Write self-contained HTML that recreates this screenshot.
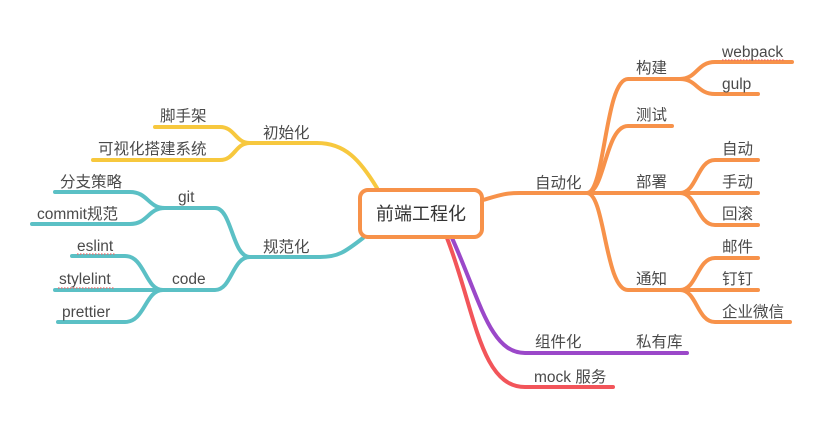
<!DOCTYPE html>
<html><head><meta charset="utf-8"><style>
html,body{margin:0;padding:0;background:#fff;}
svg text{font-family:"Liberation Sans","Noto Sans CJK SC",sans-serif;font-size:15.5px;fill:#4a4a4a;}
</style></head><body>
<svg width="827" height="417" viewBox="0 0 827 417" xmlns="http://www.w3.org/2000/svg">
<g fill="none" stroke-width="4" stroke-linecap="round">
<g stroke="#f7c83e">
<path d="M377,188 C360,160 345,143 317,143 L250,143"/>
<path d="M250,143 C235,143 235,127 220,127 L155,127"/>
<path d="M250,143 C235,143 235,160 220,160 L93,160"/>
</g>
<g stroke="#5bc0c5">
<path d="M363,238 C345,252 338,257 320,257 L250,257"/>
<path d="M250,257 C232,257 232,208 215,208 L165,208"/>
<path d="M165,208 C148,208 148,192 130,192 L55,192"/>
<path d="M165,208 C148,208 148,224 130,224 L32,224"/>
<path d="M250,257 C232,257 232,290 215,290 L163,290"/>
<path d="M163,290 C145,290 145,256 125,256 L72,256"/>
<path d="M163,290 L55,290"/>
<path d="M163,290 C145,290 145,322 125,322 L58,322"/>
</g>
<g stroke="#f7924a">
<path d="M483,200 C500,195 505,193 520,193 L587,193"/>
<path d="M587,193 C605,193 605,79 628,79 L680,79"/>
<path d="M680,79 C697,79 697,62 715,62 L792,62"/>
<path d="M680,79 C697,79 697,94 715,94 L758,94"/>
<path d="M587,193 C605,193 605,126 628,126 L672,126"/>
<path d="M587,193 L680,193"/>
<path d="M680,193 C697,193 697,160 715,160 L758,160"/>
<path d="M680,193 L758,193"/>
<path d="M680,193 C697,193 697,225 715,225 L758,225"/>
<path d="M587,193 C605,193 605,290 628,290 L680,290"/>
<path d="M680,290 C697,290 697,258 715,258 L758,258"/>
<path d="M680,290 L758,290"/>
<path d="M680,290 C697,290 697,322 715,322 L790,322"/>
</g>
<path stroke="#9b48c9" d="M452,238 C480,300 490,353 525,353 L687,353"/>
<path stroke="#f2555a" d="M447,238 C475,310 480,387 525,387 L613,387"/>
</g>
<g stroke="#e66" stroke-width="1.2" stroke-dasharray="1.5,1.5">
<line x1="722" y1="60" x2="785" y2="60"/>
<line x1="77" y1="254" x2="116" y2="254"/>
<line x1="58" y1="288" x2="114" y2="288"/>
</g>
<rect x="360" y="190" width="122" height="47" rx="8" fill="#fff" stroke="#f7924a" stroke-width="4"/>
<text x="421" y="220" text-anchor="middle" style="font-size:18px;fill:#333">前端工程化</text>
<text x="263" y="138">初始化</text>
<text x="160" y="121">脚手架</text>
<text x="98" y="154">可视化搭建系统</text>
<text x="263" y="252">规范化</text>
<text x="178" y="202">git</text>
<text x="60" y="187">分支策略</text>
<text x="37" y="219">commit规范</text>
<text x="172" y="284">code</text>
<text x="77" y="251">eslint</text>
<text x="59" y="284">stylelint</text>
<text x="62" y="317">prettier</text>
<text x="535" y="188">自动化</text>
<text x="636" y="73">构建</text>
<text x="722" y="57">webpack</text>
<text x="722" y="89">gulp</text>
<text x="636" y="120">测试</text>
<text x="636" y="187">部署</text>
<text x="722" y="154">自动</text>
<text x="722" y="187">手动</text>
<text x="722" y="219">回滚</text>
<text x="636" y="284">通知</text>
<text x="722" y="252">邮件</text>
<text x="722" y="284">钉钉</text>
<text x="722" y="317">企业微信</text>
<text x="535" y="347">组件化</text>
<text x="636" y="347">私有库</text>
<text x="534" y="382">mock 服务</text>
</svg>
</body></html>
